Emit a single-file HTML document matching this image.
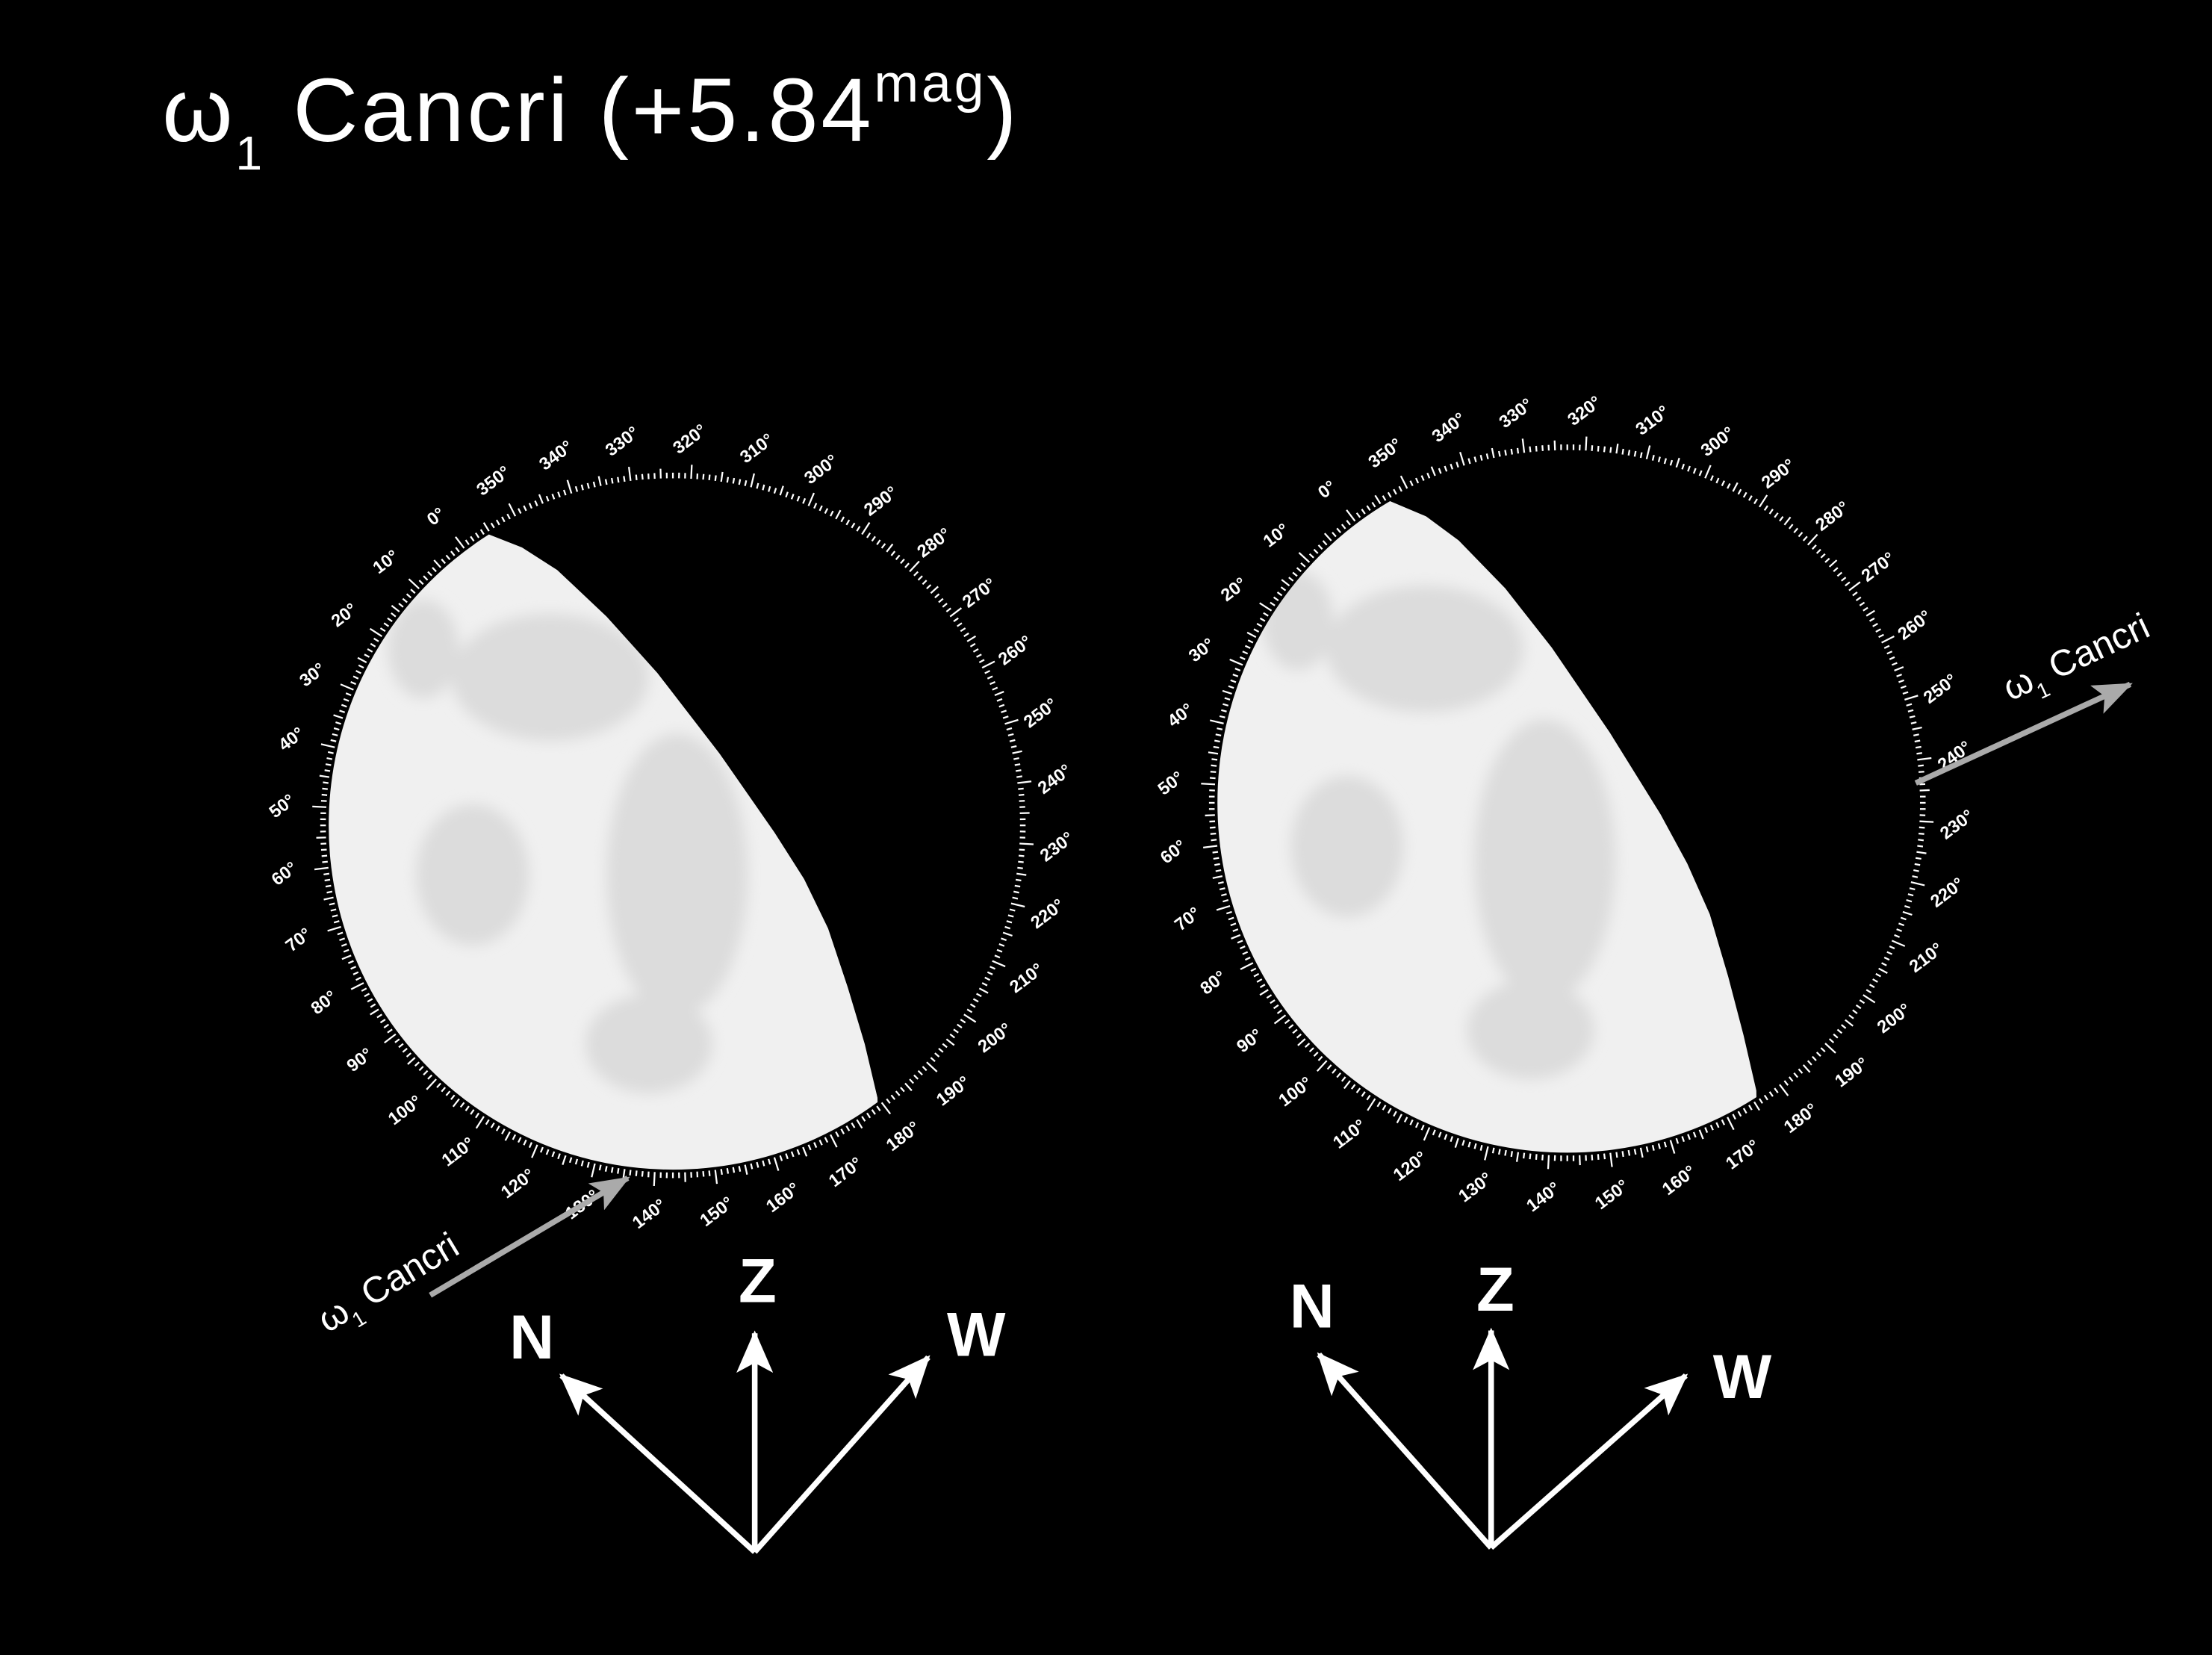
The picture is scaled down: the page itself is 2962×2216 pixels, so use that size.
<!DOCTYPE html>
<html><head><meta charset="utf-8">
<style>
html,body{margin:0;padding:0;background:#000;}
svg{display:block;}
text{font-family:"Liberation Sans",sans-serif;fill:#fff;}
</style></head>
<body>
<svg id="s" width="2962" height="2216" viewBox="0 0 1568 1173" xmlns="http://www.w3.org/2000/svg">
<defs>
<filter id="b" x="-20%" y="-20%" width="140%" height="140%"><feGaussianBlur stdDeviation="5"/></filter>
<marker id="ag" markerWidth="28" markerHeight="22" refX="26" refY="11" orient="auto" markerUnits="userSpaceOnUse"><path d="M0,0 L28,11 L0,22 L6,11 Z" fill="#aaa"/></marker>
<marker id="aw" markerWidth="30" markerHeight="26" refX="28" refY="13" orient="auto" markerUnits="userSpaceOnUse"><path d="M0,0 L30,13 L0,26 L7,13 Z" fill="#fff"/></marker>
<clipPath id="k1"><circle cx="477" cy="585" r="244"/></clipPath>
<clipPath id="k2"><circle cx="1111" cy="569" r="248"/></clipPath>
<clipPath id="c1"><path d="M330 360 L342 377 L370 388 L395 404 L430 437 L466 477 L510 534 L549 590 L570 623 L587 658 L601 700 L613 740 L622 778 L630 1100 L100 1100 L100 200 Z"/></clipPath>
<clipPath id="c2"><path d="M975 340 L985 355 L1011 366 L1034 383 L1067 417 L1100 459 L1141 519 L1177 577 L1196 612 L1212 648 L1225 692 L1236 734 L1245 773 L1250 1100 L700 1100 L700 200 Z"/></clipPath>
</defs>
<rect width="1568" height="1173" fill="#000"/>
<text x="115" y="100" font-size="64" letter-spacing="2">ω<tspan font-size="34" dy="20">1</tspan><tspan dy="-20"> Cancri (+5.84</tspan><tspan font-size="38" dy="-28">mag</tspan><tspan dy="28">)</tspan></text>

<g clip-path="url(#k1)"><g clip-path="url(#c1)">
<rect x="200" y="300" width="500" height="600" fill="#f0f0f0"/>
<g filter="url(#b)" fill="#dcdcdc">
<ellipse cx="390" cy="480" rx="70" ry="45"/>
<ellipse cx="480" cy="620" rx="50" ry="100"/>
<ellipse cx="335" cy="620" rx="40" ry="50"/>
<ellipse cx="460" cy="740" rx="45" ry="35"/>
<ellipse cx="300" cy="460" rx="25" ry="35"/>
</g>
</g></g>
<g clip-path="url(#k2)"><g clip-path="url(#c2)">
<rect x="840" y="280" width="500" height="600" fill="#f0f0f0"/>
<g filter="url(#b)" fill="#dcdcdc">
<ellipse cx="1010" cy="460" rx="70" ry="45"/>
<ellipse cx="1095" cy="610" rx="50" ry="100"/>
<ellipse cx="955" cy="600" rx="40" ry="50"/>
<ellipse cx="1085" cy="730" rx="45" ry="35"/>
<ellipse cx="920" cy="440" rx="25" ry="35"/>
</g>
</g></g>
<g id="dials"></g>

<line x1="305" y1="918" x2="445" y2="835" stroke="#aaa" stroke-width="4" marker-end="url(#ag)"/>
<text x="0" y="0" font-size="26" transform="translate(232,945) rotate(-31)">ω<tspan font-size="15" dy="8">1</tspan><tspan dy="-8"> Cancri</tspan></text>
<line x1="1358" y1="555" x2="1510" y2="485" stroke="#aaa" stroke-width="4" marker-end="url(#ag)"/>
<text x="0" y="0" font-size="26" transform="translate(1425,497) rotate(-25)">ω<tspan font-size="15" dy="8">1</tspan><tspan dy="-8"> Cancri</tspan></text>

<g stroke="#fff" stroke-width="4" fill="none">
<line x1="535" y1="1100" x2="398" y2="975" marker-end="url(#aw)"/>
<line x1="535" y1="1100" x2="535" y2="945" marker-end="url(#aw)"/>
<line x1="535" y1="1100" x2="658" y2="962" marker-end="url(#aw)"/>
<line x1="1057" y1="1097" x2="935" y2="960" marker-end="url(#aw)"/>
<line x1="1057" y1="1097" x2="1057" y2="943" marker-end="url(#aw)"/>
<line x1="1057" y1="1097" x2="1195" y2="975" marker-end="url(#aw)"/>
</g>
<g font-size="44" font-weight="bold" text-anchor="middle">
<text x="377" y="963">N</text><text x="537" y="923">Z</text><text x="692" y="961">W</text>
<text x="930" y="941">N</text><text x="1060" y="929">Z</text><text x="1235" y="991">W</text>
</g>
</svg>
<script>
(function(){
var g=document.getElementById('dials'),h='';
function dial(cx,cy,r){
 for(var p=0;p<360;p++){
  var t=(37+p)*Math.PI/180,s=Math.sin(t),c=Math.cos(t);
  var L=p%10==0?10:(p%5==0?7:4);
  var x1=cx-r*s,y1=cy-r*c,x2=cx-(r+L)*s,y2=cy-(r+L)*c;
  h+='<line x1="'+x1.toFixed(1)+'" y1="'+y1.toFixed(1)+'" x2="'+x2.toFixed(1)+'" y2="'+y2.toFixed(1)+'" stroke="#fff" stroke-width="1.2"/>';
  if(p%10==0){
   var R=r+29,x=cx-R*s,y=cy-R*c;
   h+='<text font-size="12.5" font-weight="bold" text-anchor="middle" transform="translate('+x.toFixed(1)+','+(y+4).toFixed(1)+') rotate(-37)">'+p+'°</text>';
  }
 }
}
dial(477,585,246);
dial(1111,569,250);
g.innerHTML=h;
})();
</script>
</body></html>
